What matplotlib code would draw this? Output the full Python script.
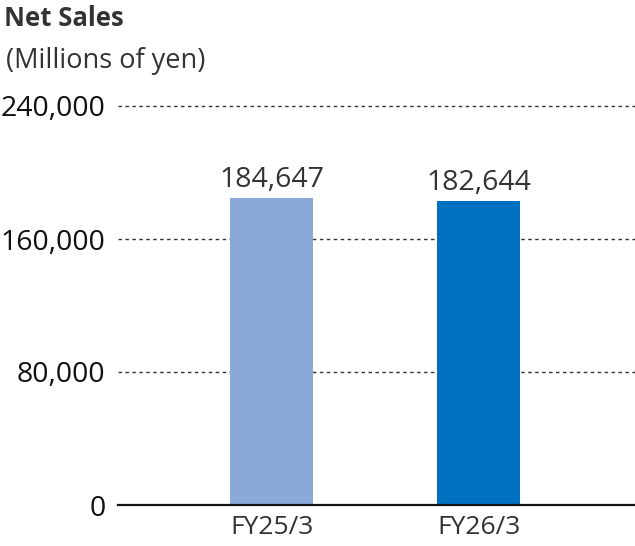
import matplotlib.pyplot as plt

categories = ["FY25/3", "FY26/3"]
values = [184647, 182644]
value_labels = ["184,647", "182,644"]
yticks = [0, 80000, 160000, 240000]
ytick_labels = ["0", "80,000", "160,000", "240,000"]
colors = ["#8aa8d8", "#0070c0"]

plt.rcParams['font.family'] = ['Open Sans', 'DejaVu Sans']

W, H = 635, 546
fig = plt.figure(figsize=(W/100, H/100), dpi=100)
left, right, bottom, top = 118, 635, 505, 106
ax = fig.add_axes([left/W, 1-bottom/H, (right-left)/W, (bottom-top)/H])

x = list(range(len(categories)))
ax.bar(x, values, width=0.40, color=colors, zorder=3)
ax.set_xlim(-0.742, 1.756)
ax.set_ylim(0, 240000)

for yv in yticks[1:]:
    ax.axhline(yv, color="#333333", lw=1.0, ls=(0, (2.5, 2.5)), zorder=1, clip_on=False)
ax.axhline(0, color="#111111", lw=1.6, zorder=4, clip_on=False)

for xi, v, lab in zip(x, values, value_labels):
    ax.text(xi, v + 2500, lab, ha="center", va="bottom", fontsize=20.5, color="#333333")

for s in ax.spines.values():
    s.set_visible(False)
ax.set_yticks(yticks)
ax.set_yticklabels(ytick_labels, fontsize=20.5, color="#111111")
ax.set_xticks(x)
ax.set_xticklabels(categories, fontsize=19, color="#333333")
ax.tick_params(axis="both", length=0)
ax.tick_params(axis="y", pad=9)
ax.tick_params(axis="x", pad=7)

fig.text(4/W, 1-18/H, "Net Sales", fontsize=18.5, fontweight="bold", color="#333333", va="center", ha="left")
fig.text(6/W, 1-61/H, "(Millions of yen)", fontsize=19.5, color="#333333", va="center", ha="left")

fig.savefig("out.png", dpi=100)
